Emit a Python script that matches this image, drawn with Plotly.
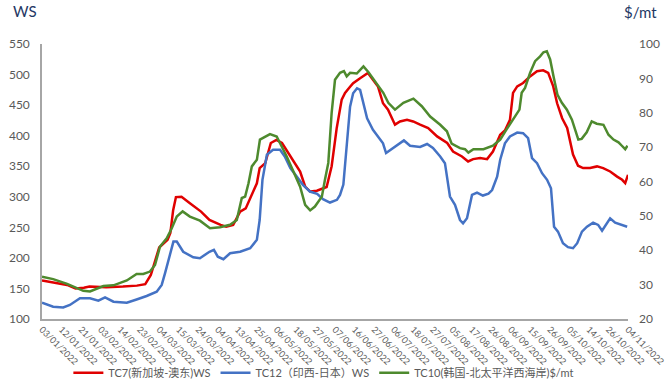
import plotly.graph_objects as go

# x tick labels (category axis, one label every 7 business days)
tick_labels = ["03/01/2022", "12/01/2022", "21/01/2022", "03/02/2022", "14/02/2022",
               "23/02/2022", "04/03/2022", "15/03/2022", "24/03/2022", "04/04/2022",
               "13/04/2022", "25/04/2022", "06/05/2022", "18/05/2022", "27/05/2022",
               "07/06/2022", "16/06/2022", "27/06/2022", "06/07/2022", "18/07/2022",
               "27/07/2022", "05/08/2022", "17/08/2022", "26/08/2022", "06/09/2022",
               "15/09/2022", "26/09/2022", "05/10/2022", "14/10/2022", "26/10/2022",
               "04/11/2022"]
tick_step = 7

# TC7 (WS, left axis) - business-day index and value
tc7_day = [0, 4, 9, 12, 15, 17, 23, 29, 34, 37, 39, 41, 42, 45, 46, 47, 48, 50, 52, 53,
           57, 60, 64, 66, 68.5, 71, 73, 75, 77, 78, 80, 82, 84, 86, 88, 90, 92.5, 94.3,
           96.1, 98.5, 100.8, 102, 103.8, 105.6, 107.4, 108.6, 110.4, 111.5, 114, 116.8,
           118.6, 120.4, 122.2, 124, 126.5, 128.3, 130.8, 133, 135.5, 138.4, 141.6, 145.2,
           147.3, 150.5, 152.7, 154.5, 157, 159.5, 161.6, 164.2, 165.9, 167.7, 168.8,
           170.3, 172.4, 174.9, 177.4, 179.6, 181.4, 183.2, 184.6, 186.4, 188.2, 189.2,
           190.3, 192.1, 193.9, 196.4, 198.9, 201.1, 203.6, 206.1, 207.9, 209, 210]
tc7_ws = [163, 159.5, 155.7, 150, 151, 153, 152, 153, 154.6, 157, 172, 202, 217, 229.5,
          241, 278, 299.5, 300, 292, 289.6, 275.8, 262, 254, 251, 254, 275.8, 281, 303,
          322, 347, 355, 388, 393, 388, 374, 357.8, 341.4, 316.8, 308.6, 310, 314, 316,
          350, 412, 459, 470, 480, 486, 494, 502.5, 491.6, 480.5, 453, 442.6, 418, 423.3,
          426, 423.3, 418, 412.5, 398.8, 388, 374, 366, 357.8, 361.6, 363.3, 361.6, 374,
          401.5, 408.6, 426, 470, 480.6, 486.2, 497, 505.4, 507, 502.7, 480.6, 453, 428.5,
          412.5, 393, 369, 350.8, 347, 347, 349.7, 347, 341.4, 333, 327.8, 322.4, 336]

# TC12 (WS, left axis)
tc12_day = [0, 4, 7.6, 10, 13.6, 17.2, 20.2, 22.6, 25.6, 30.4, 33.9, 37.5, 41.1, 42.9,
            44.1, 45.3, 47.1, 48.3, 50.6, 54.2, 56.6, 60, 61.6, 63, 65, 67.4, 71, 74.6, 77,
            78, 79, 80.6, 82.8, 85.3, 87, 89, 91.4, 93.5, 96, 98.6, 100.7, 103.2, 105.7,
            106.8, 108, 109.3, 110.4, 111.5, 112.9, 114, 115, 116.5, 118.6, 121.1, 122.2,
            123.3, 125.8, 128.3, 129.7, 131.9, 135.5, 138, 140.1, 142.7, 144.4, 146.2, 148,
            149.8, 150.9, 152.3, 154.1, 155.9, 158, 160, 161.3, 163.1, 164.2, 165.9, 167.7,
            170.3, 172.4, 174.2, 175.6, 177.4, 179.2, 181, 182.4, 183.5, 184.9, 186.7,
            188.5, 190.3, 191.8, 193.5, 195.3, 197.5, 199.3, 200.7, 203.6, 205.4, 207.9,
            209.7]
tc12_ws = [126.7, 120, 119, 123, 134, 134, 130, 135.5, 128.3, 126.7, 132, 137.7, 144.7,
           155.7, 175, 197, 226.7, 226.7, 210, 201, 199.5, 210, 213, 202, 197.8, 207.6, 210,
           215.8, 229.5, 262, 327.8, 368.8, 377, 377, 366, 347, 333, 319.6, 308.6, 304.9,
           296, 290.6, 295, 303, 320, 393, 447.5, 469.5, 477.6, 475, 456, 428.5, 409.6, 393,
           387.5, 371.6, 379.8, 388, 392.2, 383.6, 381.5, 386.4, 379.8, 366, 355, 300.4,
           286.8, 262, 256.6, 264.8, 303, 306.9, 302, 305, 311, 333, 360.6, 387.5, 398.8,
           405, 404, 395.8, 363.3, 355, 338.6, 327.8, 314, 251, 243, 224, 217.5, 215.8, 224,
           243, 251, 257.6, 254, 244.5, 264.8, 257.6, 254, 251]

# TC10 ($/mt, right axis)
tc10_day = [0, 4, 9, 12.4, 14.8, 17.2, 19.6, 22, 25.6, 30.4, 33.9, 36.3, 38.7, 40.5, 42.3,
            44.7, 46.5, 48.3, 50.4, 53, 56.6, 60.2, 63.8, 67.4, 69.8, 71.6, 72.8, 74, 75.2,
            77, 78.1, 79.9, 81.7, 84.1, 85.9, 87.7, 90.1, 92.5, 94.3, 96.1, 97.8, 100.3,
            101.4, 102.6, 103.8, 105, 106.8, 108.2, 109.2, 110.4, 112.8, 115.2, 117, 119.4,
            122.3, 124.1, 126.5, 129.5, 133.1, 136.1, 139.1, 142.7, 145.1, 146.8, 149.8,
            151.6, 152.8, 154.6, 158.2, 161.6, 164.2, 166.6, 168.9, 171.1, 171.9, 173.1,
            174.9, 176.7, 178.5, 179.7, 180.9, 182.1, 183.3, 184.7, 186.3, 188.1, 189.9,
            191, 192.2, 193.4, 195.2, 197, 198.8, 201.2, 203, 204.8, 206.6, 207.8, 209,
            209.8]
tc10_usd = [32.3, 31.6, 30.2, 28.9, 28.2, 28.0, 28.7, 29.6, 29.8, 31.2, 33.1, 33.1, 33.8,
            35.7, 41.1, 43.5, 46.4, 49.8, 51.3, 49.8, 48.6, 46.4, 46.7, 47.4, 48.8, 55.2,
            55.6, 59.5, 64.4, 66.3, 72.2, 73.1, 73.8, 73.1, 70.2, 67.3, 62.9, 58.5, 53.2,
            51.6, 52.7, 55.6, 60.5, 65.4, 80, 89.6, 91.6, 92.1, 90.6, 91.6, 91.4, 93.5, 91.8,
            89.2, 85.8, 82.9, 80.9, 82.9, 84.1, 81.9, 78.9, 76.5, 74.6, 71, 69.7, 69.4, 68.4,
            69.4, 69.4, 70.4, 72.2, 75.3, 78, 80.9, 85.8, 87.2, 91.6, 95, 96.4, 97.6, 97.9,
            95.5, 90.6, 85.3, 82.9, 80.9, 78, 75.1, 72.2, 72.4, 74.3, 77.5, 76.8, 76.5, 73.6,
            72.2, 71.4, 70.4, 69.4, 70.4]

names = ["TC7(新加坡-澳东)WS", "TC12（印西-日本）WS", "TC10(韩国-北太平洋西海岸)$/mt"]
colors = ["#E00000", "#4472C4", "#4E8A2E"]

FONT = "Lato, 'Noto Sans CJK SC', sans-serif"
GREY = "#595959"

fig = go.Figure()
fig.add_trace(go.Scatter(x=tc7_day, y=tc7_ws, name=names[0], mode="lines",
                         line=dict(color=colors[0], width=2.5)))
fig.add_trace(go.Scatter(x=tc12_day, y=tc12_ws, name=names[1], mode="lines",
                         line=dict(color=colors[1], width=2.5)))
fig.add_trace(go.Scatter(x=tc10_day, y=tc10_usd, name=names[2], mode="lines",
                         line=dict(color=colors[2], width=2.5), yaxis="y2"))

tickvals = [i * tick_step for i in range(len(tick_labels))]

fig.update_layout(
    width=670, height=380,
    paper_bgcolor="white", plot_bgcolor="white",
    margin=dict(l=42, r=42, t=44, b=61, autoexpand=False),
    font=dict(family=FONT, color=GREY, size=11),
    showlegend=True,
    legend=dict(orientation="h", x=0.045, xanchor="left", y=-0.195, yanchor="middle",
                font=dict(size=11, color=GREY), bgcolor="rgba(0,0,0,0)",
                itemwidth=30, tracegroupgap=0),
    xaxis=dict(range=[0, tickvals[-1]], tickmode="array", tickvals=tickvals,
               ticktext=tick_labels, tickangle=45, tickfont=dict(size=9, color=GREY),
               showgrid=False, zeroline=False, showline=True, linecolor="#A6A6A6",
               linewidth=1.5, ticks=""),
    yaxis=dict(range=[100, 550], dtick=50, showgrid=False, zeroline=False,
               showline=True, linecolor="#A6A6A6", linewidth=1.5, ticks="",
               tickfont=dict(size=12, color=GREY), ticklabelstandoff=8),
    yaxis2=dict(range=[20, 100], dtick=10, overlaying="y", side="right",
                showgrid=False, zeroline=False, showline=False, ticks="",
                tickfont=dict(size=12, color=GREY), ticklabelstandoff=10),
    annotations=[
        dict(text="WS", xref="paper", yref="paper", x=-0.029, y=1.16,
             xanchor="center", yanchor="top", showarrow=False,
             font=dict(size=15, color="#1F3864", family=FONT)),
        dict(text="$/mt", xref="paper", yref="paper", x=1.021, y=1.116,
             xanchor="center", yanchor="middle", showarrow=False,
             font=dict(size=15, color="#1F3864", family=FONT)),
    ],
)

fig.write_html("out.html", config={"displayModeBar": False},
               post_script="document.body.style.margin='0';")
